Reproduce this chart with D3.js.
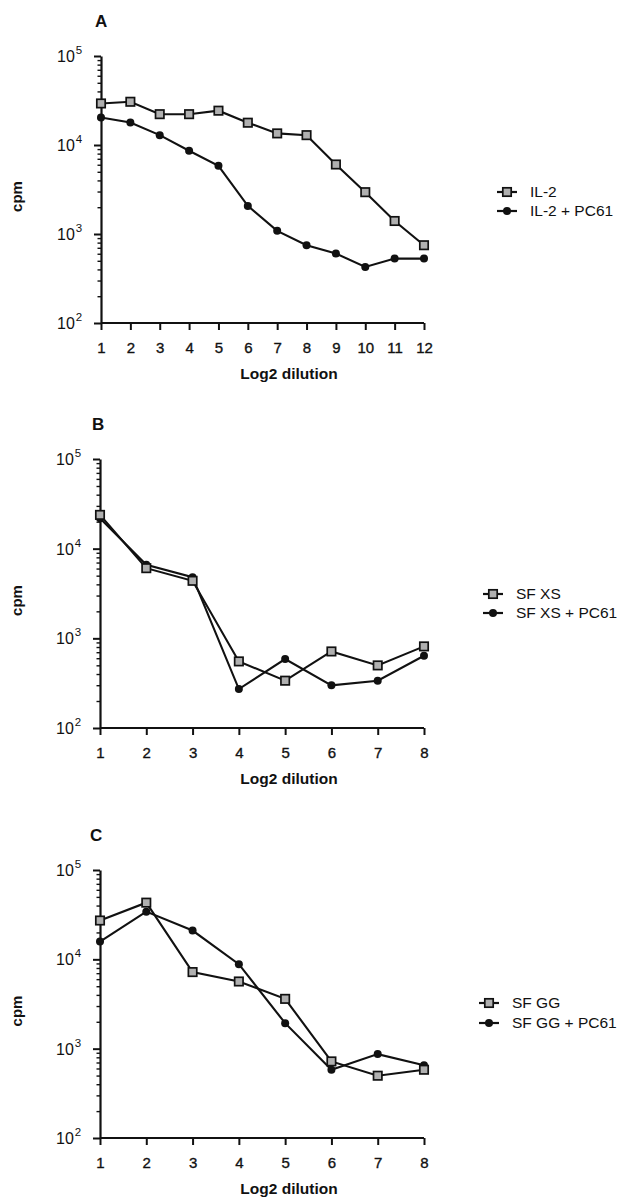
<!DOCTYPE html>
<html><head><meta charset="utf-8">
<script src="https://cdn.jsdelivr.net/npm/d3@7"></script>
<style>body{margin:0;background:#fff}svg{display:block}</style>
</head><body>
<svg id="c" width="622" height="1198"></svg>
<script>
// ---- data ----
const dilA = [1,2,3,4,5,6,7,8,9,10,11,12];
const il2 = [29300,30600,22200,22200,24300,17800,13500,12900,6040,2950,1400,748];
const il2PC61 = [20400,17900,12900,8610,5830,2070,1085,748,603,427,529,529];
const dilB = [1,2,3,4,5,6,7,8];
const sfxs = [23800,6060,4380,553,337,714,499,813];
const sfxsPC61 = [21900,6600,4810,272,587,299,337,640];
const dilC = [1,2,3,4,5,6,7,8];
const sfgg = [27200,43100,7200,5650,3610,720,498,581];
const sfggPC61 = [15800,34200,21000,8830,1930,581,869,652];
const yTickExp = [2,3,4,5];
const panels = [
  {label:"A", x:dilA, s1:il2, s2:il2PC61, names:["IL-2","IL-2 + PC61"], top:56, bottom:323, left:101, right:424, lx:95, legX:507, legY:192, legGap:19},
  {label:"B", x:dilB, s1:sfxs, s2:sfxsPC61, names:["SF XS","SF XS + PC61"], top:459, bottom:728, left:100, right:424, lx:92, legX:493, legY:594, legGap:19},
  {label:"C", x:dilC, s1:sfgg, s2:sfggPC61, names:["SF GG","SF GG + PC61"], top:870, bottom:1138, left:100, right:424, lx:90, legX:489, legY:1003, legGap:20}
];
const svg = d3.select("#c");
const font = "Liberation Sans, Arial, Helvetica, sans-serif";

function square(g, x, y){
  g.append("rect").attr("x",x-4.2).attr("y",y-4.2).attr("width",8.4).attr("height",8.4)
   .attr("fill","#b0b0b0").attr("stroke","#111").attr("stroke-width",1.7);
}
function dot(g, x, y){
  g.append("circle").attr("cx",x).attr("cy",y).attr("r",4).attr("fill","#111");
}

panels.forEach(p=>{
  const g = svg.append("g");
  const xs = d3.scaleLinear().domain([1, p.x[p.x.length-1]]).range([p.left,p.right]);
  const ys = d3.scaleLog().domain([100,100000]).range([p.bottom,p.top]);
  // y axis minor ticks
  const minor = [];
  for(let e=2;e<5;e++) for(let m=2;m<=9;m++) minor.push(m*Math.pow(10,e));
  g.append("g").attr("transform",`translate(${p.left},0)`)
    .call(d3.axisLeft(ys).tickValues(minor).tickSize(3.5).tickFormat(""))
    .call(a=>{a.select(".domain").remove(); a.selectAll("line").attr("stroke","#111").attr("stroke-width",1.4);});
  g.append("g").attr("transform",`translate(${p.left},0)`)
    .call(d3.axisLeft(ys).tickValues(yTickExp.map(e=>Math.pow(10,e))).tickSize(7).tickSizeOuter(0).tickFormat(""))
    .call(a=>{a.select(".domain").attr("stroke","#111").attr("stroke-width",2.2); a.selectAll("line").attr("stroke","#111").attr("stroke-width",2);});
  yTickExp.forEach(e=>{
    const t = g.append("text").attr("x",p.left-44).attr("y",ys(Math.pow(10,e))+6)
      .attr("font-family",font).attr("font-size",16).attr("fill","#111");
    t.append("tspan").text("10");
    t.append("tspan").attr("dx",1).attr("dy",-8).attr("font-size",11.5).text(e);
  });
  // x axis
  g.append("g").attr("transform",`translate(0,${p.bottom})`)
    .call(d3.axisBottom(xs).tickValues(p.x).tickSize(7).tickPadding(12).tickFormat(d3.format("d")))
    .call(a=>{
      a.select(".domain").attr("stroke","#111").attr("stroke-width",2.2).attr("d",`M${p.left},0H${p.right}`);
      a.selectAll("line").attr("stroke","#111").attr("stroke-width",2);
      a.selectAll("text").attr("font-family",font).attr("font-size",15).attr("fill","#111")
        .attr("stroke","#111").attr("stroke-width",0.35);
    });
  // labels
  g.append("text").attr("x",p.lx).attr("y",p.top-29).attr("font-family",font)
    .attr("font-weight","bold").attr("font-size",17).attr("fill","#111").text(p.label);
  g.append("text").attr("x",289).attr("y",p.bottom+56).attr("text-anchor","middle")
    .attr("font-family",font).attr("font-weight","bold").attr("font-size",15.5).attr("fill","#111").text("Log2 dilution");
  g.append("text").attr("transform",`translate(22,${(p.top+p.bottom)/2+7}) rotate(-90)`)
    .attr("text-anchor","middle").attr("font-family",font).attr("font-weight","bold").attr("font-size",15).attr("fill","#111").text("cpm");
  // lines
  const line = d3.line().x((d,i)=>xs(p.x[i])).y(d=>ys(d));
  [p.s2,p.s1].forEach(s=>{
    g.append("path").attr("d",line(s)).attr("fill","none").attr("stroke","#111").attr("stroke-width",2.1);
  });
  p.s2.forEach((v,i)=>dot(g,xs(p.x[i]),ys(v)));
  p.s1.forEach((v,i)=>square(g,xs(p.x[i]),ys(v)));
  // legend
  const lg = svg.append("g");
  [0,1].forEach(k=>{
    const y = p.legY + k*p.legGap;
    lg.append("line").attr("x1",p.legX-10).attr("x2",p.legX+10).attr("y1",y).attr("y2",y)
      .attr("stroke","#111").attr("stroke-width",2.2);
    if(k===0) square(lg,p.legX,y); else dot(lg,p.legX,y);
    lg.append("text").attr("x",p.legX+23).attr("y",y+5.3).attr("font-family",font)
      .attr("font-size",15.5).attr("fill","#111").text(p.names[k]);
  });
});
</script>
</body></html>
